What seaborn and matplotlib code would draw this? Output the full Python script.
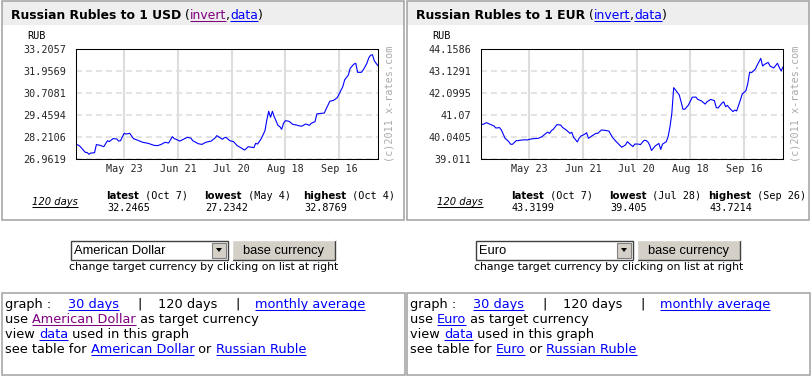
"""Russian Rubles to 1 USD / 1 EUR — 120 days, x-rates.com page layout."""

import matplotlib

matplotlib.use("Agg")
import matplotlib.dates as mdates
import matplotlib.pyplot as plt
import pandas as pd
import seaborn as sns
from matplotlib.font_manager import FontProperties
from matplotlib.patches import Polygon, Rectangle

W, H = 811, 376

# ── data ────────────────────────────────────────────────────────────────────
usd_dates = [
    "04-27", "04-29", "05-02", "05-03", "05-04", "05-05", "05-07", "05-08", "05-10", "05-12",
    "05-14", "05-15", "05-17", "05-19", "05-20", "05-21", "05-23", "05-24", "05-26", "05-28",
    "05-30", "06-02", "06-05", "06-08", "06-10", "06-12", "06-14", "06-16", "06-18", "06-19",
    "06-20", "06-22", "06-24", "06-26", "06-28", "06-29", "07-02", "07-04", "07-06", "07-09",
    "07-11", "07-12", "07-15", "07-16", "07-17", "07-19", "07-21", "07-23", "07-24", "07-27",
    "07-29", "07-31", "08-01", "08-02", "08-03", "08-05", "08-07", "08-08", "08-09", "08-10",
    "08-11", "08-12", "08-13", "08-14", "08-15", "08-16", "08-17", "08-18", "08-20", "08-22",
    "08-24", "08-26", "08-27", "08-29", "08-31", "09-01", "09-03", "09-04", "09-06", "09-08",
    "09-09", "09-11", "09-13", "09-15", "09-16", "09-18", "09-19", "09-21", "09-22", "09-24",
    "09-25", "09-26", "09-28", "09-29", "10-01", "10-02", "10-03", "10-04", "10-05", "10-06",
    "10-07",
]
usd_rates = [
    27.81, 27.70, 27.34, 27.33, 27.23, 27.30, 27.32, 27.78, 27.74, 27.66,
    28.00, 27.95, 28.12, 28.10, 27.98, 28.00, 28.42, 28.38, 28.42, 28.12,
    28.04, 27.91, 27.85, 27.74, 27.72, 27.79, 27.91, 27.87, 28.23, 28.12,
    28.08, 27.98, 28.08, 28.19, 28.15, 28.00, 27.83, 27.79, 27.91, 27.98,
    28.15, 28.29, 28.08, 28.17, 28.19, 28.00, 27.95, 27.72, 27.66, 27.47,
    27.66, 27.62, 27.61, 27.85, 27.81, 28.12, 28.57, 29.18, 29.67, 29.33,
    29.67, 29.36, 29.12, 28.87, 28.80, 28.65, 28.99, 29.14, 29.10, 28.93,
    28.89, 28.83, 28.83, 28.95, 28.87, 28.99, 29.08, 29.52, 29.55, 29.57,
    29.80, 30.24, 30.29, 30.44, 30.65, 31.07, 31.45, 31.73, 32.11, 32.35,
    32.39, 31.88, 31.88, 32.01, 32.39, 32.70, 32.85, 32.88, 32.54, 32.39,
    32.25,
]

eur_dates = [
    "04-27", "04-28", "04-30", "05-02", "05-04", "05-05", "05-07", "05-08", "05-10", "05-12",
    "05-13", "05-14", "05-16", "05-17", "05-19", "05-21", "05-22", "05-23", "05-25", "05-28",
    "05-30", "06-01", "06-02", "06-03", "06-04", "06-05", "06-07", "06-09", "06-10", "06-12",
    "06-14", "06-15", "06-16", "06-18", "06-19", "06-20", "06-22", "06-23", "06-24", "06-26",
    "06-28", "06-29", "07-01", "07-03", "07-05", "07-07", "07-09", "07-12", "07-14", "07-15",
    "07-16", "07-18", "07-19", "07-21", "07-22", "07-24", "07-25", "07-26", "07-27", "07-28",
    "07-30", "08-01", "08-02", "08-03", "08-05", "08-06", "08-07", "08-08", "08-09", "08-10",
    "08-12", "08-13", "08-14", "08-15", "08-17", "08-19", "08-21", "08-22", "08-24", "08-26",
    "08-27", "08-29", "08-31", "09-01", "09-02", "09-04", "09-05", "09-06", "09-07", "09-08",
    "09-10", "09-11", "09-12", "09-14", "09-15", "09-17", "09-18", "09-19", "09-20", "09-22",
    "09-23", "09-25", "09-26", "09-27", "09-29", "09-30", "10-02", "10-04", "10-05", "10-06",
    "10-07",
]
eur_rates = [
    40.63, 40.63, 40.71, 40.63, 40.56, 40.46, 40.48, 40.37, 39.98, 39.82,
    39.70, 39.70, 39.87, 39.87, 39.90, 39.91, 39.90, 39.93, 39.96, 39.98,
    40.06, 40.21, 40.27, 40.21, 40.34, 40.40, 40.62, 40.60, 40.49, 40.37,
    40.21, 40.26, 40.02, 39.81, 39.99, 40.09, 40.17, 40.24, 39.98, 40.10,
    40.21, 40.21, 40.37, 40.35, 40.32, 40.02, 39.82, 39.56, 39.67, 39.82,
    39.74, 39.59, 39.71, 39.71, 39.68, 39.88, 39.88, 39.82, 39.67, 39.41,
    39.62, 39.74, 39.46, 39.71, 39.82, 40.06, 40.52, 41.15, 42.35, 42.24,
    42.01, 41.69, 41.34, 41.34, 41.54, 41.90, 41.91, 41.80, 41.73, 41.58,
    41.69, 41.80, 41.74, 41.41, 41.40, 41.62, 41.69, 41.46, 41.52, 41.40,
    41.23, 41.30, 41.26, 41.77, 42.05, 42.21, 42.55, 43.08, 43.05, 43.21,
    43.39, 43.72, 43.36, 43.44, 43.53, 43.36, 43.27, 43.49, 43.30, 43.13,
    43.32,
]

usd_ticks = ["26.9619", "28.2106", "29.4594", "30.7081", "31.9569", "33.2057"]
eur_ticks = ["39.011", "40.0405", "41.07", "42.0995", "43.1291", "44.1586"]
date_ticks = ["2011-05-23", "2011-06-21", "2011-07-20", "2011-08-18", "2011-09-16"]
date_span = ["2011-04-27", "2011-10-07"]

usd_stats = [("latest", "(Oct 7)", "32.2465"), ("lowest", "(May 4)", "27.2342"),
             ("highest", "(Oct 4)", "32.8769")]
eur_stats = [("latest", "(Oct 7)", "43.3199"), ("lowest", "(Jul 28)", "39.405"),
             ("highest", "(Sep 26)", "43.7214")]

BLACK = "#000000"
LINK = "#0000ff"
VISITED = "#800080"
BORDER = "#a0a0a0"

SANS = "DejaVu Sans"
MONO = "DejaVu Sans Mono"
F_TITLE = FontProperties(family=SANS, weight="bold", size=8.9)
F_TITLE_REG = FontProperties(family=SANS, size=8.9)
F_MONO = FontProperties(family=MONO, size=7.3)
F_STAT = FontProperties(family=SANS, weight="bold", size=7.3)
F_ITAL = FontProperties(family=SANS, style="italic", size=7.2)
F_BODY = FontProperties(family=SANS, size=9.3)
F_SMALL = FontProperties(family=SANS, size=7.8)
F_WIDGET = FontProperties(family="Liberation Sans", size=9.3)

RENDERER = None


def px_rect(x0, y0, x1, y1):
    return [x0 / W, 1 - y1 / H, (x1 - x0) / W, (y1 - y0) / H]


def text_width(s, fp):
    w, _, _ = RENDERER.get_text_width_height_descent(s, fp, ismath=False)
    return w


def advance(s, fp):
    return text_width(s + "|", fp) - text_width("|", fp)


def draw_runs(bg, x, y, runs):
    for text, color, link, fp in runs:
        bg.text(x, y, text, fontproperties=fp, color=color, ha="left", va="baseline")
        if link:
            bg.plot([x, x + text_width(text, fp)], [y + 1.5, y + 1.5],
                    color=color, lw=0.75, solid_capstyle="butt")
        x += advance(text, fp)
    return x


def draw_chart(fig, bg, dx, code, dates, rates, ticks, stats, invert_visited):
    # panel frame + header band
    bg.add_patch(Rectangle((dx + 1.5, 0.5), 402, 24, facecolor="#eeeeee", edgecolor="none"))
    bg.add_patch(Rectangle((dx + 1.5, 0.5), 402, 219, facecolor="none", edgecolor=BORDER, lw=1.1))
    draw_runs(bg, dx + 11, 19, [
        (f"Russian Rubles to 1 {code}", BLACK, False, F_TITLE),
        (" (", BLACK, False, F_TITLE_REG),
        ("invert", VISITED if invert_visited else LINK, True, F_TITLE_REG),
        (",", BLACK, False, F_TITLE_REG),
        ("data", LINK, True, F_TITLE_REG),
        (")", BLACK, False, F_TITLE_REG),
    ])
    bg.text(dx + 27, 39, "RUB", fontproperties=F_MONO, color=BLACK, va="baseline")
    bg.text(dx + 390, 104, "(c)2011 x-rates.com", fontproperties=F_MONO, color="#aaaaaa",
            rotation=90, ha="center", va="center")

    # the line chart
    ax = fig.add_axes(px_rect(dx + 76, 49, dx + 378, 159))
    df = pd.DataFrame({"date": pd.to_datetime(["2011-" + d for d in dates]), "rate": rates})
    sns.lineplot(data=df, x="date", y="rate", color="#0000ff", lw=0.8, ax=ax)
    ax.set_xlim(pd.to_datetime(date_span[0]), pd.to_datetime(date_span[1]))
    yt = [float(t) for t in ticks]
    ax.set_ylim(yt[0], yt[-1])
    ax.set_yticks(yt)
    ax.set_yticklabels(ticks)
    ax.set_xticks(pd.to_datetime(date_ticks))
    ax.xaxis.set_major_formatter(mdates.DateFormatter("%b %d"))
    ax.set_xlabel("")
    ax.set_ylabel("")
    ax.xaxis.grid(True, color="#dddddd", lw=1.5, ls="-")
    ax.yaxis.grid(True, color="#dddddd", lw=1.1, ls=(0, (4.3, 2.9)))
    ax.set_axisbelow(True)
    ax.tick_params(axis="y", length=0, pad=7.2)
    ax.tick_params(axis="x", length=0, pad=3.6)
    for lab in ax.get_xticklabels() + ax.get_yticklabels():
        lab.set_fontproperties(F_MONO)
    for sp in ax.spines.values():
        sp.set_visible(True)
        sp.set_color(BLACK)
        sp.set_linewidth(0.75)

    # stats row
    draw_runs(bg, dx + 32, 205, [("120 days", BLACK, True, F_ITAL)])
    for (label, when, value), sx in zip(stats, [106, 204, 303]):
        draw_runs(bg, dx + sx, 199, [(label, BLACK, False, F_STAT), (" " + when, BLACK, False, F_MONO)])
        bg.text(dx + sx + 1, 211, value, fontproperties=F_MONO, color=BLACK, va="baseline")


def draw_widget(bg, x0, label):
    bg.add_patch(Rectangle((x0, 240.5), 157, 19, facecolor="white", edgecolor="#404040", lw=1.0))
    bg.add_patch(Rectangle((x0 + 141, 242.5), 14, 15, facecolor="#d4d0c8", edgecolor="#808080", lw=0.8))
    bg.add_patch(Polygon([[x0 + 145, 248], [x0 + 151, 248], [x0 + 148, 252]], closed=True,
                         facecolor=BLACK, edgecolor="none"))
    bg.text(x0 + 3, 254, label, fontproperties=F_WIDGET, color=BLACK, va="baseline")
    bg.add_patch(Rectangle((x0 + 161, 239.5), 103, 21, facecolor="#d4d0c8", edgecolor="none"))
    bg.plot([x0 + 161, x0 + 264, x0 + 264], [260, 260, 239.5], color="#404040", lw=1.0)
    bg.plot([x0 + 161, x0 + 161, x0 + 264], [260, 239.5, 239.5], color="#ffffff", lw=1.0)
    bg.text(x0 + 212.5, 254, "base currency", fontproperties=F_WIDGET, color=BLACK,
            ha="center", va="baseline")
    bg.text(x0 + 133, 270, "change target currency by clicking on list at right",
            fontproperties=F_SMALL, color=BLACK, ha="center", va="baseline")


def draw_links(bg, dx, target, target_visited):
    bg.add_patch(Rectangle((dx + 1.5, 292.5), 403, 82, facecolor="none", edgecolor=BORDER, lw=1.1))
    x = dx + 5
    for text, sx, link in [("graph :", 0, False), ("30 days", 63, True), ("|", 132, False),
                           ("120 days", 153, False), ("|", 230, False),
                           ("monthly average", 250, True)]:
        draw_runs(bg, x + sx, 308, [(text, LINK if link else BLACK, link, F_BODY)])
    draw_runs(bg, x, 323, [("use ", BLACK, False, F_BODY),
                           (target, VISITED if target_visited else LINK, True, F_BODY),
                           (" as target currency", BLACK, False, F_BODY)])
    draw_runs(bg, x, 338, [("view ", BLACK, False, F_BODY), ("data", LINK, True, F_BODY),
                           (" used in this graph", BLACK, False, F_BODY)])
    draw_runs(bg, x, 353, [("see table for ", BLACK, False, F_BODY), (target, LINK, True, F_BODY),
                           (" or ", BLACK, False, F_BODY), ("Russian Ruble", LINK, True, F_BODY)])


def main() -> None:
    global RENDERER
    sns.set_style("white")
    plt.rcParams["font.family"] = [SANS]
    plt.rcParams["lines.scale_dashes"] = False

    fig = plt.figure(figsize=(W / 100, H / 100), dpi=100, facecolor="white")
    RENDERER = fig.canvas.get_renderer()

    bg = fig.add_axes([0, 0, 1, 1])
    bg.set_xlim(0, W)
    bg.set_ylim(H, 0)
    bg.set_axis_off()

    draw_chart(fig, bg, 0, "USD", usd_dates, usd_rates, usd_ticks, usd_stats, True)
    draw_chart(fig, bg, 405, "EUR", eur_dates, eur_rates, eur_ticks, eur_stats, False)
    draw_widget(bg, 71, "American Dollar")
    draw_widget(bg, 476, "Euro")
    draw_links(bg, 0, "American Dollar", True)
    draw_links(bg, 405, "Euro", False)

    fig.savefig("out.png", dpi=100, facecolor="white")
    plt.close(fig)


if __name__ == "__main__":
    main()
